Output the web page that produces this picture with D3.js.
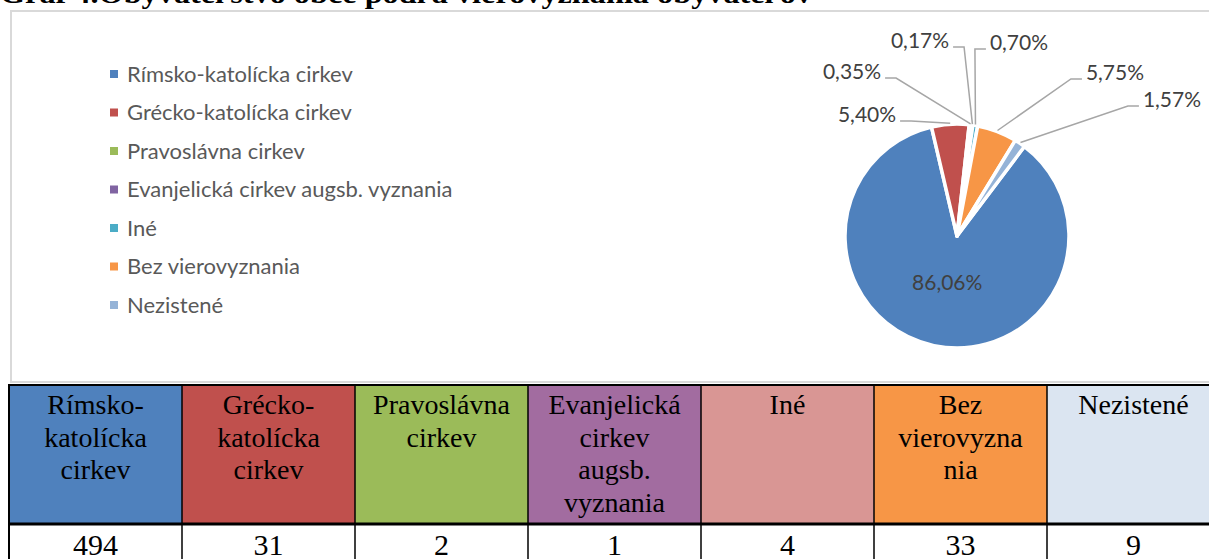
<!doctype html>
<html>
  <head>
    <meta charset="utf-8">
    <title>Graf 4</title>
    <script src="https://cdn.jsdelivr.net/npm/d3@7"></script>
    <style>
      body { margin: 0; background: #fff; }
    </style>
  </head>
  <body>
    <script>
      // data
      const title = 'Graf 4.Obyvateľstvo obce podľa vierovyznania obyvateľov';
      const categories = [
        'Rímsko-katolícka cirkev', 'Grécko-katolícka cirkev', 'Pravoslávna cirkev',
        'Evanjelická cirkev augsb. vyznania', 'Iné', 'Bez vierovyznania', 'Nezistené'
      ];
      const counts = [494, 31, 2, 1, 4, 33, 9];
      const headerLines = [
        ['Rímsko-', 'katolícka', 'cirkev'],
        ['Grécko-', 'katolícka', 'cirkev'],
        ['Pravoslávna', 'cirkev'],
        ['Evanjelická', 'cirkev', 'augsb.', 'vyznania'],
        ['Iné'],
        ['Bez', 'vierovyzna', 'nia'],
        ['Nezistené']
      ];
      const pieColors = ['#4f81bd', '#c0504d', '#9bbb59', '#8064a2', '#4bacc6', '#f79646', '#95b3d7'];
      const cellColors = ['#4f81bd', '#c0504d', '#9bbb59', '#a26ca0', '#d99694', '#f79646', '#dbe5f1'];

      const width = 1209;
      const height = 559;

      const svg = d3.select('body').append('svg')
          .attr('width', width)
          .attr('height', height);

      // titulok (orezany hore)
      svg.append('text')
          .attr('x', 0)
          .attr('y', 3)
          .attr('textLength', 812)
          .attr('lengthAdjust', 'spacingAndGlyphs')
          .style('font', 'bold 27px "Liberation Serif", serif')
          .text(title);

      // ramik grafu
      svg.append('rect')
          .attr('x', 11).attr('y', 11)
          .attr('width', 1220).attr('height', 371)
          .attr('fill', 'none')
          .attr('stroke', '#d9d9d9')
          .attr('stroke-width', 2);

      // legenda
      const legend = svg.append('g').attr('transform', 'translate(110, 74)');
      const legendY = d3.scalePoint().domain(categories).range([0, 231]);
      const li = legend.selectAll('g').data(categories).enter().append('g')
          .attr('transform', d => `translate(0, ${legendY(d)})`);
      li.append('rect')
          .attr('x', 0).attr('y', -4)
          .attr('width', 8).attr('height', 8)
          .attr('fill', (d, i) => pieColors[i]);
      li.append('text')
          .attr('x', 17)
          .attr('dy', '0.35em')
          .attr('fill', '#595959')
          .style('font', '22px Lato, sans-serif')
          .text(d => d);

      // kolac
      const cx = 957, cy = 236, r = 112;
      const total = d3.sum(counts);
      const fmt = v => (v / total * 100).toFixed(2).replace('.', ',') + '%';
      const a0 = 37 * Math.PI / 180;
      const pie = d3.pie().sort(null).startAngle(a0).endAngle(a0 + 2 * Math.PI);
      const arcs = pie(counts);
      const arc = d3.arc().innerRadius(0).outerRadius(r);
      const gPie = svg.append('g').attr('transform', `translate(${cx}, ${cy})`);
      gPie.selectAll('path').data(arcs).enter().append('path')
          .attr('d', arc)
          .attr('fill', (d, i) => pieColors[i])
          .attr('stroke', '#fff')
          .attr('stroke-width', 3.5)
          .attr('stroke-linejoin', 'round');

      // popisky: vnutorny pre prvy diel, ostatne vonku s ciarami
      const labelArc = d3.arc().innerRadius(0).outerRadius(95);
      const labelAt = [null, [-90, -121], [-105, -164], [-37, -195], [62, -193], [158, -163], [215, -136]];
      const gLab = svg.append('g').attr('transform', `translate(${cx}, ${cy})`);
      arcs.forEach((d, i) => {
        const t = gLab.append('text')
            .attr('text-anchor', 'middle')
            .attr('dy', '0.35em')
            .attr('fill', '#404040')
            .style('font', '21px Lato, sans-serif')
            .text(fmt(d.value));
        if (!labelAt[i]) {
          const c = labelArc.centroid(d);
          t.attr('x', c[0]).attr('y', c[1]);
          return;
        }
        const [lx, ly] = labelAt[i];
        t.attr('x', lx).attr('y', ly);
        const w = t.node().getComputedTextLength();
        const mid = (d.startAngle + d.endAngle) / 2;
        const px = Math.sin(mid) * (r + 1), py = -Math.cos(mid) * (r + 1);
        const side = lx < px ? 1 : -1;
        const sx = lx + side * (w / 2 + 4), sy = ly + 6;
        gLab.insert('path', 'text')
            .attr('d', d3.line()([[sx, sy], [sx + side * 11, sy], [px, py]]))
            .attr('fill', 'none')
            .attr('stroke', '#a6a6a6')
            .attr('stroke-width', 1.5);
      });

      // tabulka
      const col = d3.scaleBand().domain(categories).range([9, 9 + 7 * 173]);
      const tabTop = 385, headBottom = 524, tabBottom = 575;
      const gTab = svg.append('g');
      gTab.selectAll('rect.h').data(categories).enter().append('rect')
          .attr('class', 'h')
          .attr('x', d => col(d)).attr('y', tabTop)
          .attr('width', col.bandwidth()).attr('height', headBottom - tabTop)
          .attr('fill', (d, i) => cellColors[i]);

      const cells = gTab.selectAll('g.c').data(categories).enter().append('g')
          .attr('class', 'c');
      cells.each(function (d, i) {
        const g = d3.select(this);
        const x = col(d) + col.bandwidth() / 2;
        headerLines[i].forEach((line, k) => {
          g.append('text')
              .attr('x', x)
              .attr('y', 414 + k * 32.5)
              .attr('text-anchor', 'middle')
              .style('font', '28px "Liberation Serif", serif')
              .text(line);
        });
        g.append('text')
            .attr('x', x)
            .attr('y', 555)
            .attr('text-anchor', 'middle')
            .style('font', '30px "Liberation Serif", serif')
            .text(counts[i]);
      });

      // mriezka tabulky
      gTab.selectAll('line.v').data(categories).enter().append('line')
          .attr('class', 'v')
          .attr('x1', d => col(d)).attr('x2', d => col(d))
          .attr('y1', tabTop).attr('y2', tabBottom)
          .attr('stroke', '#000')
          .attr('stroke-width', (d, i) => i === 0 ? 2 : 1.5);
      gTab.append('line')
          .attr('x1', 8).attr('x2', width).attr('y1', tabTop).attr('y2', tabTop)
          .attr('stroke', '#000').attr('stroke-width', 2);
      gTab.append('line')
          .attr('x1', 8).attr('x2', width).attr('y1', headBottom).attr('y2', headBottom)
          .attr('stroke', '#000').attr('stroke-width', 3);
    </script>
  </body>
</html>
